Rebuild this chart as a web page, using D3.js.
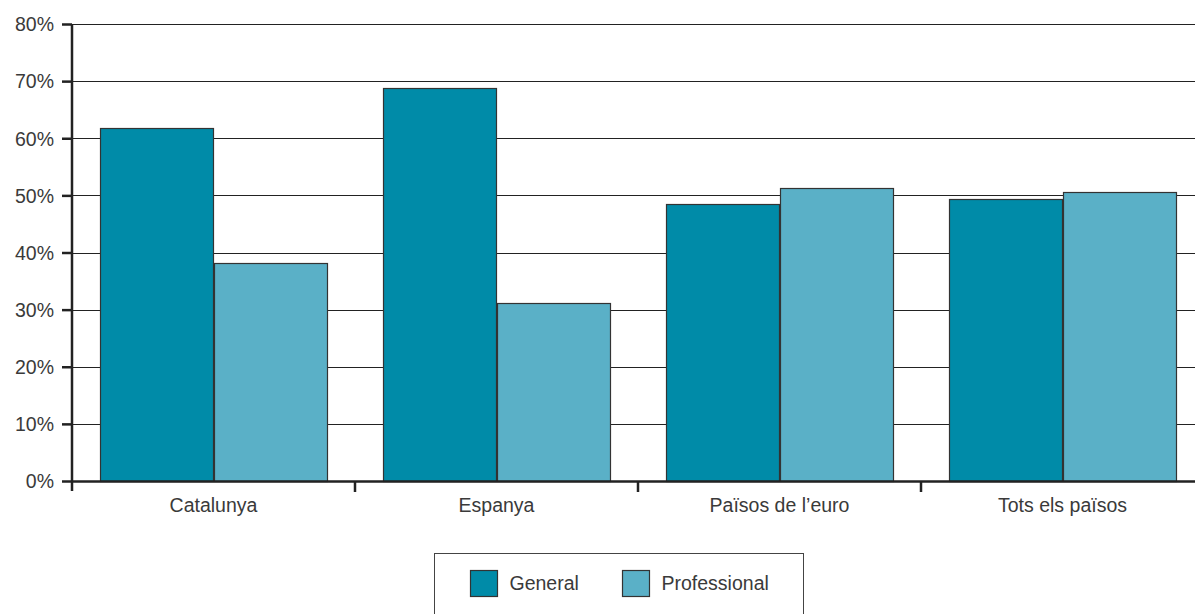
<!DOCTYPE html>
<html>
<head>
<meta charset="utf-8">
<script src="https://cdn.jsdelivr.net/npm/d3@7"></script>
<style>
  body { margin: 0; background: #fff; }
  svg text { font-family: 'Liberation Sans', Arial, sans-serif; fill: #3a3a3a; }
</style>
</head>
<body>
<script>
const categories = ['Catalunya', 'Espanya', 'Països de l\u2019euro', 'Tots els països'];
const series = ['General', 'Professional'];
const general = [61.8, 68.8, 48.5, 49.4];
const professional = [38.2, 31.2, 51.3, 50.6];
const yTicks = [0, 10, 20, 30, 40, 50, 60, 70, 80];
const colors = ['#008ba8', '#5ab0c7'];

const width = 1195;
const height = 614;
const margin = { top: 24, right: -9, bottom: 133, left: 72 };
const fontSize = '19.5px';

const rows = categories.map((c, i) => ({ cat: c, values: [general[i], professional[i]] }));

const svg = d3.select('body')
    .append('svg')
    .attr('width', width)
    .attr('height', height);

const x = d3.scaleBand()
    .domain(categories)
    .range([margin.left, width - margin.right])
    .paddingInner(0)
    .paddingOuter(0);

const inner = d3.scaleBand()
    .domain(series)
    .range([x.bandwidth() * 0.1, x.bandwidth() * 0.9]);

const y = d3.scaleLinear()
    .domain([0, 80])
    .range([height - margin.bottom, margin.top]);

// gridlines
svg.append('g')
    .selectAll('line')
    .data(yTicks.filter(d => d > 0))
    .join('line')
    .attr('x1', margin.left)
    .attr('x2', width)
    .attr('y1', d => Math.round(y(d)) + 0.5)
    .attr('y2', d => Math.round(y(d)) + 0.5)
    .attr('stroke', '#222')
    .attr('stroke-width', 1);

// bars
svg.append('g')
    .selectAll('g')
    .data(rows)
    .join('g')
    .attr('transform', d => `translate(${x(d.cat)},0)`)
    .selectAll('rect')
    .data(d => d.values.map((v, i) => ({ key: series[i], v, i })))
    .join('rect')
    .attr('x', d => Math.round(inner(d.key)) + 0.5)
    .attr('y', d => Math.round(y(d.v)) + 0.5)
    .attr('width', d => Math.round(inner.bandwidth()))
    .attr('height', d => Math.round(y(0)) - Math.round(y(d.v)))
    .attr('fill', d => colors[d.i])
    .attr('stroke', '#333')
    .attr('stroke-width', 1.2);

// y axis
const yAxis = svg.append('g')
    .attr('transform', `translate(${margin.left},0)`)
    .call(d3.axisLeft(y).tickValues(yTicks).tickFormat(d => d + '%').tickSize(10).tickSizeOuter(0));
yAxis.select('.domain').attr('stroke', '#222').attr('stroke-width', 2.5)
    .attr('d', `M0,${y(80)}V${y(0) + 10}`);
yAxis.selectAll('.tick line').attr('stroke', '#222').attr('stroke-width', 2.5);
yAxis.selectAll('.tick text').attr('x', -18).attr('dy', '0.35em').style('font-size', fontSize);

// x axis
const xAxis = svg.append('g')
    .attr('transform', `translate(0,${y(0)})`)
    .call(d3.axisBottom(x).tickSize(0).tickSizeOuter(0));
xAxis.select('.domain').attr('stroke', '#222').attr('stroke-width', 2.5);
xAxis.selectAll('.tick text').attr('y', 24).attr('dy', '0.35em').style('font-size', fontSize);

svg.append('g')
    .selectAll('line')
    .data(categories.slice(1))
    .join('line')
    .attr('x1', d => x(d))
    .attr('x2', d => x(d))
    .attr('y1', y(0))
    .attr('y2', y(0) + 11)
    .attr('stroke', '#222')
    .attr('stroke-width', 2.5);

// legend
const legend = svg.append('g').attr('transform', 'translate(434.5,553.5)');
legend.append('rect')
    .attr('width', 369)
    .attr('height', 80)
    .attr('fill', 'none')
    .attr('stroke', '#444')
    .attr('stroke-width', 1);

const item = legend.selectAll('g.item')
    .data(series)
    .join('g')
    .attr('class', 'item')
    .attr('transform', (d, i) => `translate(${36 + i * 152},17)`);
item.append('rect')
    .attr('width', 27)
    .attr('height', 26)
    .attr('fill', (d, i) => colors[i])
    .attr('stroke', '#333')
    .attr('stroke-width', 1.2);
item.append('text')
    .attr('x', 39)
    .attr('y', 13)
    .attr('dy', '0.35em')
    .style('font-size', fontSize)
    .text(d => d);
</script>
</body>
</html>
